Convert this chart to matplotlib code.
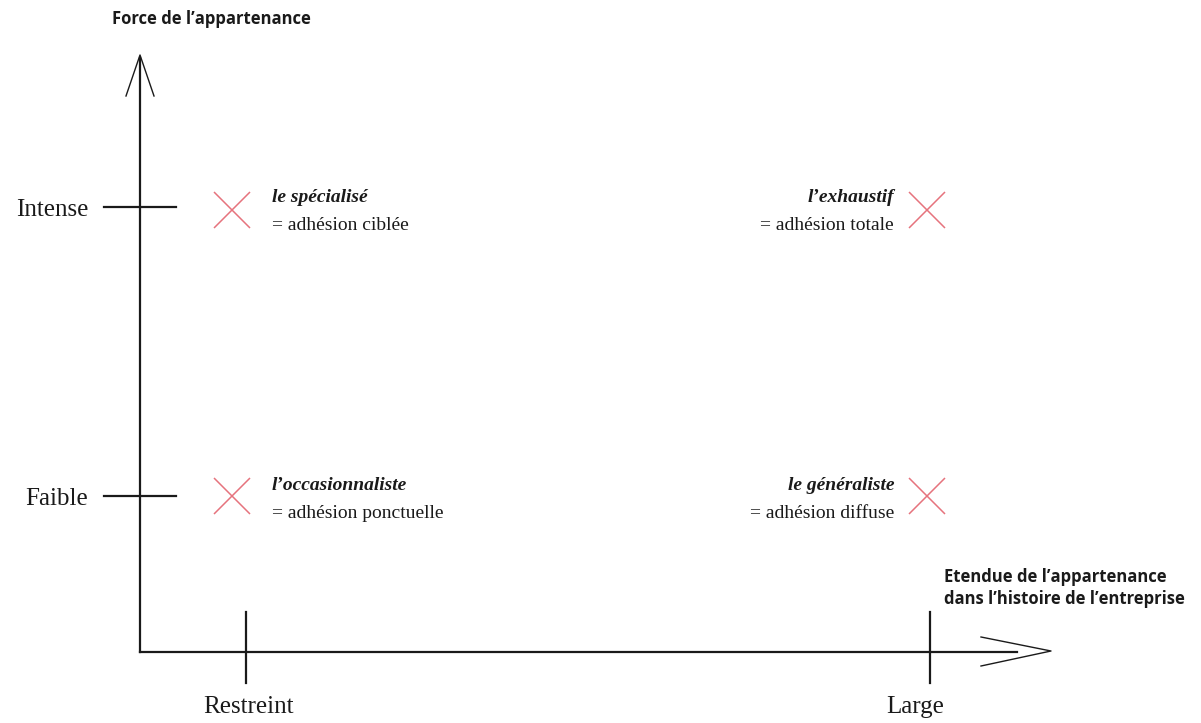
import matplotlib
matplotlib.use("Agg")
import matplotlib.pyplot as plt
import matplotlib.transforms as mtransforms

# categories on each axis
x_categories = ["Restreint", "Large"]
y_categories = ["Faible", "Intense"]

# the four profiles: (x category, y category, name, definition)
profile_x = ["Restreint", "Large", "Restreint", "Large"]
profile_y = ["Intense", "Intense", "Faible", "Faible"]
profile_names = ["le spécialisé", "l\u2019exhaustif", "l\u2019occasionnaliste", "le généraliste"]
profile_defs = ["= adhésion ciblée", "= adhésion totale", "= adhésion ponctuelle", "= adhésion diffuse"]

y_title = "Force de l\u2019appartenance"
x_title = "Etendue de l\u2019appartenance\ndans l\u2019histoire de l\u2019entreprise"

W, H = 1201, 723
fig = plt.figure(figsize=(W / 100, H / 100), dpi=100)
ax = fig.add_axes([0, 0, 1, 1])

# unit layout: Restreint=0 / Large=1 at 246 / 930 px, Faible=0 / Intense=1 at 496 / 207 px
X0, XS = 246, 684
Y0, YS = 496, 289
def ux(p):
    return (p - X0) / XS
def uy(p):
    return (Y0 - p) / YS

ax.set_xlim(ux(0), ux(W))
ax.set_ylim(uy(H), uy(0))
ax.axis("off")

xi = {c: i for i, c in enumerate(x_categories)}
yi = {c: i for i, c in enumerate(y_categories)}

ink = "#1a1a1a"
serif = ["Liberation Serif", "DejaVu Serif"]
sans = ["Open Sans", "DejaVu Sans"]

# axes with open arrows
ox, oy = ux(140), uy(652)
ax.plot([ox, ox], [oy, uy(58)], color=ink, lw=1.6)
ax.plot([ux(126), ux(140), ux(154)], [uy(96), uy(55), uy(96)], color=ink, lw=1.0)
ax.plot([ox, ux(1017)], [oy, oy], color=ink, lw=1.6)
ax.plot([ux(981), ux(1051), ux(981)], [uy(637), uy(651), uy(666)], color=ink, lw=1.0)

# ticks and tick labels
for c in y_categories:
    y = yi[c]
    ax.plot([ux(104), ux(176)], [y, y], color=ink, lw=1.6)
    ax.text(ux(88), y - 0.012, c, ha="right", va="center", fontsize=18,
            family=serif, color=ink)
label_shift = {"Restreint": 2 / XS, "Large": -15 / XS}
for c in x_categories:
    x = xi[c]
    ax.plot([x, x], [uy(612), uy(683)], color=ink, lw=1.6)
    ax.text(x + label_shift[c], uy(707), c, ha="center", va="center", fontsize=18,
            family=serif, color=ink)

# axis titles
ax.text(ux(112), uy(19), y_title, ha="left", va="center", fontsize=12,
        family=sans, fontweight="bold", color=ink)
ax.text(ux(944), uy(588), x_title, ha="left", va="center", fontsize=12,
        family=sans, fontweight="bold", color=ink, linespacing=1.3)

# profile markers and labels
for px_, py_, name, d in zip(profile_x, profile_y, profile_names, profile_defs):
    x, y = xi[px_], yi[py_]
    left = x == 0
    dx = -14 if left else -3
    dy = -3 if y == 1 else 0
    off = mtransforms.offset_copy(ax.transData, fig=fig, x=dx * 0.72, y=dy * 0.72, units="points")
    ax.plot([x], [y], marker="x", markersize=26, markeredgewidth=1.1,
            color="#e6737d", transform=off)
    if left:
        tx, ha = ux(272), "left"
    else:
        tx, ha = ux(894), "right"
    shift = -1 if y == 1 else 0
    ax.text(tx, y + uy(Y0 - 11 - shift), name, ha=ha, va="center", fontsize=14,
            family=serif, style="italic", fontweight="bold", color=ink)
    ax.text(tx, y - uy(Y0 - 17 + shift), d, ha=ha, va="center", fontsize=14,
            family=serif, color=ink)

fig.savefig("out.png", dpi=100, facecolor="white")
